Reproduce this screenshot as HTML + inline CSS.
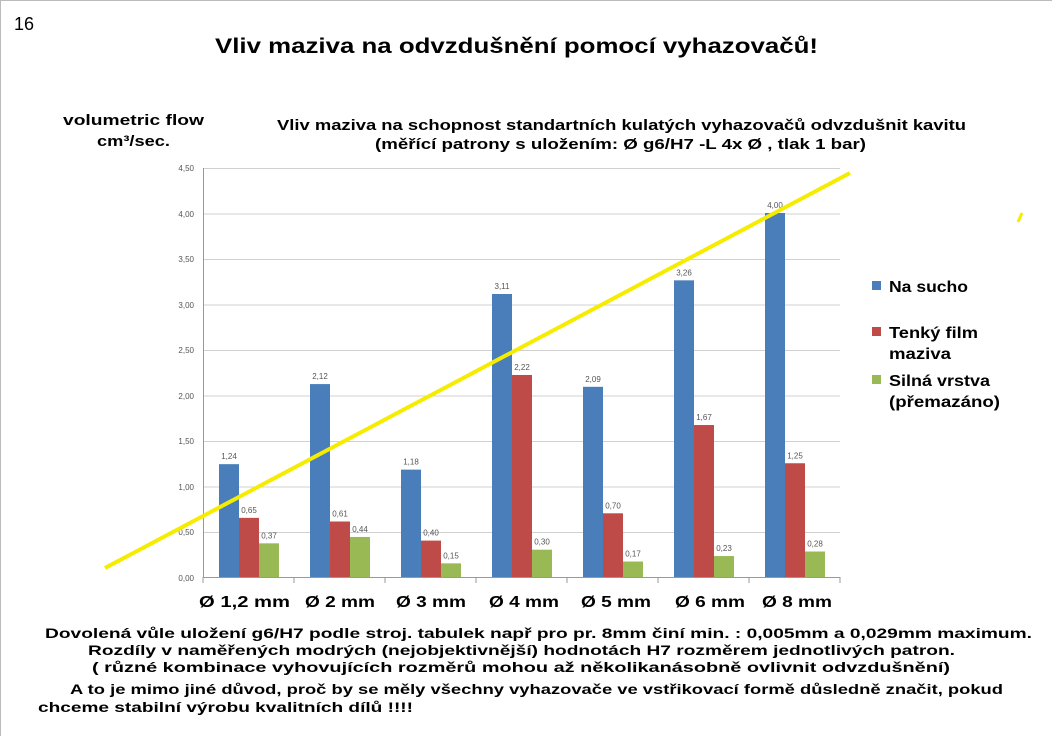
<!DOCTYPE html>
<html><head><meta charset="utf-8"><style>
body{margin:0;width:1052px;height:736px;background:#fff;overflow:hidden}
svg{display:block}
text{font-family:"Liberation Sans","DejaVu Sans",sans-serif}
</style></head><body>
<svg width="1052" height="736" viewBox="0 0 1052 736">
<rect x="0.5" y="0.5" width="1060" height="760" fill="#fff" stroke="#bbb"/>
<text x="14" y="30" font-size="18">16</text>
<text x="215" y="53" font-size="21" font-weight="bold" textLength="603" lengthAdjust="spacingAndGlyphs">Vliv maziva na odvzdušnění  pomocí  vyhazovačů!</text>
<text x="63" y="125" font-size="15" font-weight="bold" textLength="141" lengthAdjust="spacingAndGlyphs">volumetric flow</text>
<text x="97" y="146" font-size="15" font-weight="bold" textLength="73" lengthAdjust="spacingAndGlyphs">cm³/sec.</text>
<text x="277" y="130" font-size="15" font-weight="bold" textLength="689" lengthAdjust="spacingAndGlyphs">Vliv maziva na  schopnost standartních  kulatých vyhazovačů odvzdušnit kavitu</text>
<text x="375" y="149" font-size="15" font-weight="bold" textLength="491" lengthAdjust="spacingAndGlyphs">(měřící patrony s uložením: Ø g6/H7 -L 4x Ø , tlak 1 bar)</text>
<g stroke="#d0d0d0" stroke-width="1">
<line x1="203" x2="840" y1="168.5" y2="168.5"/><line x1="203" x2="840" y1="214" y2="214"/>
<line x1="203" x2="840" y1="259.5" y2="259.5"/><line x1="203" x2="840" y1="305" y2="305"/>
<line x1="203" x2="840" y1="350.5" y2="350.5"/><line x1="203" x2="840" y1="396" y2="396"/>
<line x1="203" x2="840" y1="441.5" y2="441.5"/><line x1="203" x2="840" y1="487" y2="487"/>
<line x1="203" x2="840" y1="532.5" y2="532.5"/>
</g>
<g stroke="#999"><line x1="203.5" x2="203.5" y1="168" y2="578"/><line x1="203" x2="840" y1="577.5" y2="577.5"/>
<line x1="294" x2="294" y1="577" y2="583"/><line x1="385" x2="385" y1="577" y2="583"/><line x1="476" x2="476" y1="577" y2="583"/><line x1="567" x2="567" y1="577" y2="583"/><line x1="658" x2="658" y1="577" y2="583"/><line x1="749" x2="749" y1="577" y2="583"/><line x1="840" x2="840" y1="577" y2="583"/><line x1="203" x2="203" y1="577" y2="583"/></g>
<g font-size="8" fill="#555" text-anchor="end">
<text x="194" y="171">4,50</text><text x="194" y="217">4,00</text><text x="194" y="262">3,50</text><text x="194" y="308">3,00</text><text x="194" y="353">2,50</text><text x="194" y="399">2,00</text><text x="194" y="444">1,50</text><text x="194" y="490">1,00</text><text x="194" y="535">0,50</text><text x="194" y="581">0,00</text>
</g>
<g id="bars"></g>
<g font-size="8" fill="#555" text-anchor="middle" id="lbls"></g>
<g font-size="16" font-weight="bold">
<text x="199" y="607" textLength="91" lengthAdjust="spacingAndGlyphs">Ø 1,2 mm</text>
<text x="305" y="607" textLength="70" lengthAdjust="spacingAndGlyphs">Ø 2 mm</text>
<text x="396" y="607" textLength="70" lengthAdjust="spacingAndGlyphs">Ø 3 mm</text>
<text x="489" y="607" textLength="70" lengthAdjust="spacingAndGlyphs">Ø 4 mm</text>
<text x="581" y="607" textLength="70" lengthAdjust="spacingAndGlyphs">Ø 5 mm</text>
<text x="675" y="607" textLength="70" lengthAdjust="spacingAndGlyphs">Ø 6 mm</text>
<text x="762" y="607" textLength="70" lengthAdjust="spacingAndGlyphs">Ø 8 mm</text>
</g>
<line x1="105" y1="568" x2="850" y2="173" stroke="#f5ec00" stroke-width="4"/>
<line x1="1018" y1="222" x2="1022" y2="213" stroke="#f5ec00" stroke-width="3"/>
<g font-size="16" font-weight="bold">
<rect x="872" y="281" width="9" height="9" fill="#4a7ebb"/>
<text x="889" y="292" textLength="79" lengthAdjust="spacingAndGlyphs">Na sucho</text>
<rect x="872" y="327" width="9" height="9" fill="#be4b48"/>
<text x="889" y="338" textLength="89" lengthAdjust="spacingAndGlyphs">Tenký film</text>
<text x="889" y="359" textLength="62" lengthAdjust="spacingAndGlyphs">maziva</text>
<rect x="872" y="375" width="9" height="9" fill="#98b954"/>
<text x="889" y="386" textLength="101" lengthAdjust="spacingAndGlyphs">Silná vrstva</text>
<text x="889" y="407" textLength="111" lengthAdjust="spacingAndGlyphs">(přemazáno)</text>
</g>
<g font-size="14" font-weight="bold">
<text x="45" y="638" textLength="987" lengthAdjust="spacingAndGlyphs">Dovolená vůle uložení g6/H7 podle stroj. tabulek např pro pr. 8mm činí  min. : 0,005mm a 0,029mm maximum.</text>
<text x="88" y="655" textLength="867" lengthAdjust="spacingAndGlyphs">Rozdíly v naměřených modrých (nejobjektivnější) hodnotách H7 rozměrem jednotlivých patron.</text>
<text x="92" y="672" textLength="858" lengthAdjust="spacingAndGlyphs">( různé kombinace  vyhovujících rozměrů mohou až několikanásobně ovlivnit odvzdušnění)</text>
<text x="70" y="694" textLength="933" lengthAdjust="spacingAndGlyphs">A to je mimo jiné důvod, proč by se měly všechny vyhazovače ve vstřikovací formě důsledně značit, pokud</text>
<text x="38" y="712" textLength="375" lengthAdjust="spacingAndGlyphs">chceme stabilní výrobu kvalitních dílů !!!!</text>
</g>
</svg>
<script>
var d=[[1.24,.65,.37],[2.12,.61,.44],[1.18,.40,.15],[3.11,2.22,.30],[2.09,.70,.17],[3.26,1.67,.23],[4.00,1.25,.28]];
var c=["#4a7ebb","#be4b48","#98b954"],ns="http://www.w3.org/2000/svg",b=document.getElementById("bars"),l=document.getElementById("lbls");
d.forEach(function(g,i){g.forEach(function(v,j){var x=203+91*i+16+20*j,h=v*91,r=document.createElementNS(ns,"rect");
r.setAttribute("x",x);r.setAttribute("y",577-h);r.setAttribute("width",20);r.setAttribute("height",h);r.setAttribute("fill",c[j]);b.appendChild(r);
var t=document.createElementNS(ns,"text");t.setAttribute("x",x+10);t.setAttribute("y",577-h-5);t.textContent=v.toFixed(2).replace(".",",");l.appendChild(t);});});
</script>
</body></html>
